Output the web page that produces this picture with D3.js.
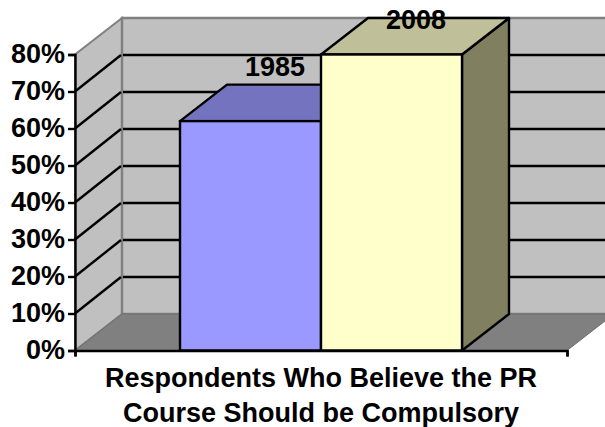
<!DOCTYPE html>
<html>
<head>
<meta charset="utf-8">
<script src="https://cdn.jsdelivr.net/npm/d3@7"></script>
<style>
  html, body { margin: 0; padding: 0; background: #fff; overflow: hidden; }
  text { font-family: "Liberation Sans", Arial, sans-serif; font-weight: bold; fill: #000; }
</style>
</head>
<body>
<script>
// Data
const categories = ['1985', '2008'];
const values = [62, 80];
const tickValues = [0, 10, 20, 30, 40, 50, 60, 70, 80];
const titleLines = ['Respondents Who Believe the PR', 'Course Should be Compulsory'];

const barFronts = ['#9999ff', '#ffffcc'];
const barTops = ['#7373bf', '#bfbf99'];
const barSides = ['#5c5c99', '#808060'];

const width = 605, height = 427;
const depthX = 47, depthY = -36.5; // 3D offset of the back wall
const fontSize = '27px';
const lineWidth = 2.4;

const svg = d3.select('body').append('svg')
  .attr('width', width).attr('height', height)
  .style('display', 'block');

const y = d3.scaleLinear().domain([0, 80]).range([350.5, 54.5]);
const plotLeft = 75, plotRight = 567;
const x = d3.scaleBand().domain(categories).range([180, 462]).padding(0);

const poly = pts => pts.map(p => p.join(',')).join(' ');

// walls
const wallTop = y(80) + depthY, wallBottom = y(0) + depthY;
svg.append('polygon')
  .attr('points', poly([[plotLeft, y(0)], [plotLeft + depthX, wallBottom], [plotLeft + depthX, wallTop], [plotLeft, y(80)]]))
  .attr('fill', '#c0c0c0').attr('stroke', '#808080').attr('stroke-width', 2);
svg.append('polygon')
  .attr('points', poly([[plotLeft + depthX, wallBottom], [plotRight + depthX, wallBottom], [plotRight + depthX, wallTop], [plotLeft + depthX, wallTop]]))
  .attr('fill', '#c0c0c0').attr('stroke', '#808080').attr('stroke-width', 2.5);

// gridlines on back and side wall
const inner = tickValues.filter(d => d > 0 && d < 80);
svg.append('g').selectAll('line').data(inner).enter().append('line')
  .attr('x1', plotLeft + depthX + 1).attr('x2', plotRight + depthX)
  .attr('y1', d => y(d) + depthY).attr('y2', d => y(d) + depthY)
  .attr('stroke', '#000').attr('stroke-width', lineWidth);
svg.append('g').selectAll('line').data(inner).enter().append('line')
  .attr('x1', plotLeft).attr('x2', plotLeft + depthX - 1)
  .attr('y1', d => y(d)).attr('y2', d => y(d) + depthY)
  .attr('stroke', '#000').attr('stroke-width', lineWidth);

// floor
svg.append('polygon')
  .attr('points', poly([[plotLeft, y(0)], [plotRight, y(0)], [plotRight + depthX, wallBottom], [plotLeft + depthX, wallBottom]]))
  .attr('fill', '#808080').attr('stroke', '#6e6e6e').attr('stroke-width', 1);

// bars: side, top, front
const bars = svg.append('g').selectAll('g').data(categories).enter().append('g');
const bx0 = d => x(d), bx1 = d => x(d) + x.bandwidth();
const by = (d, i) => y(values[i]);

bars.append('polygon')
  .attr('points', (d, i) => poly([[bx1(d), y(0)], [bx1(d) + depthX, wallBottom], [bx1(d) + depthX, by(d, i) + depthY], [bx1(d), by(d, i)]]))
  .attr('fill', (d, i) => barSides[i]).attr('stroke', '#000').attr('stroke-width', lineWidth).attr('stroke-linejoin', 'round');
bars.append('polygon')
  .attr('points', (d, i) => poly([[bx0(d), by(d, i)], [bx1(d), by(d, i)], [bx1(d) + depthX, by(d, i) + depthY], [bx0(d) + depthX, by(d, i) + depthY]]))
  .attr('fill', (d, i) => barTops[i]).attr('stroke', '#000').attr('stroke-width', lineWidth).attr('stroke-linejoin', 'round');
bars.append('rect')
  .attr('x', bx0).attr('y', by)
  .attr('width', x.bandwidth()).attr('height', (d, i) => y(0) - by(d, i))
  .attr('fill', (d, i) => barFronts[i]).attr('stroke', '#000').attr('stroke-width', lineWidth);

// bar labels
svg.append('g').selectAll('text').data(categories).enter().append('text')
  .attr('x', d => x(d) + x.bandwidth() / 2 + 24.5)
  .attr('y', (d, i) => Math.max(by(d, i) - 45.5, 29))
  .attr('text-anchor', 'middle').style('font-size', fontSize)
  .text(d => d);

// axes
const yAxis = d3.axisLeft(y).tickValues(tickValues).tickSize(7).tickPadding(3).tickFormat(d => d + '%');
const yAxisDraw = svg.append('g').attr('transform', `translate(${plotLeft},0)`).call(yAxis);
yAxisDraw.selectAll('line, path').attr('stroke', '#000').attr('stroke-width', lineWidth);
yAxisDraw.selectAll('text').style('font-size', fontSize).attr('dy', '0.3em');
yAxisDraw.attr('font-family', null).attr('font-size', null);

const xAxis = d3.axisBottom(d3.scaleLinear().domain([0, 1]).range([plotLeft, plotRight])).tickValues([0, 1]).tickSize(6).tickFormat('');
const xAxisDraw = svg.append('g').attr('transform', `translate(0,${y(0)})`).call(xAxis);
xAxisDraw.selectAll('line, path').attr('stroke', '#000').attr('stroke-width', lineWidth);

// axis title
svg.append('g').selectAll('text').data(titleLines).enter().append('text')
  .attr('x', 321).attr('y', (d, i) => 387 + i * 34.5)
  .attr('text-anchor', 'middle').style('font-size', fontSize)
  .text(d => d);
</script>
</body>
</html>
